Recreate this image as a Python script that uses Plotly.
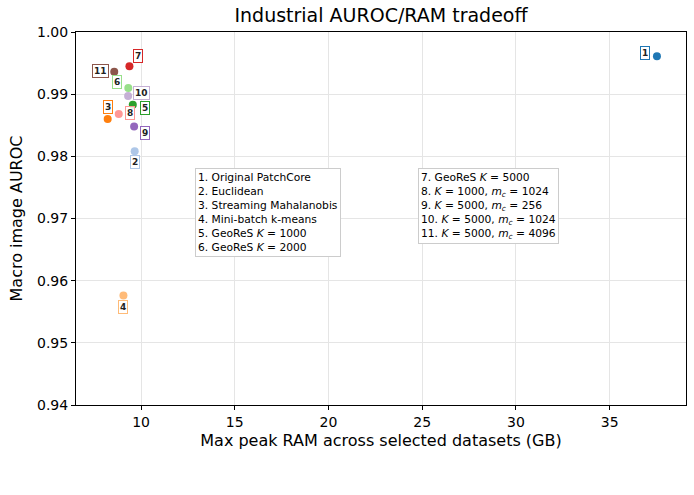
import plotly.graph_objects as go

ids = ["1", "2", "3", "4", "5", "6", "7", "8", "9", "10", "11"]
ram_gb = [37.52, 9.66, 8.22, 9.06, 9.56, 9.32, 9.38, 8.81, 9.63, 9.31, 8.57]
auroc = [0.9961, 0.9808, 0.9860, 0.9576, 0.9883, 0.9910, 0.9945, 0.9868, 0.9848, 0.9897, 0.9936]
colors = ["#1f77b4", "#aec7e8", "#ff7f0e", "#ffbb78", "#2ca02c", "#98df8a",
          "#d62728", "#ff9896", "#9467bd", "#c5b0d5", "#8c564b"]
label_shift = [(-12, 3), (0, -11), (0, 12), (0, -11), (12, -3), (-11, 6),
               (9, 10), (11, 1), (11, -7), (13, 3), (-14, 1)]

legend_left = ["1. Original PatchCore", "2. Euclidean", "3. Streaming Mahalanobis",
               "4. Mini-batch k-means", "5. GeoReS <i>K</i> = 1000", "6. GeoReS <i>K</i> = 2000"]
legend_right = ["7. GeoReS <i>K</i> = 5000", "8. <i>K</i> = 1000, <i>m<sub>c</sub></i> = 1024",
                "9. <i>K</i> = 5000, <i>m<sub>c</sub></i> = 256", "10. <i>K</i> = 5000, <i>m<sub>c</sub></i> = 1024",
                "11. <i>K</i> = 5000, <i>m<sub>c</sub></i> = 4096"]

font = "DejaVu Sans"
fig = go.Figure()
fig.add_trace(go.Scatter(
    x=ram_gb, y=auroc, mode="markers",
    marker=dict(color=colors, size=8, line=dict(width=0)),
    showlegend=False, cliponaxis=False,
))

for i, lab in enumerate(ids):
    fig.add_annotation(
        x=ram_gb[i], y=auroc[i], text="<b>%s</b>" % lab, showarrow=False,
        xshift=label_shift[i][0], yshift=label_shift[i][1],
        font=dict(family=font, size=9, color="#222"),
        bgcolor="rgba(255,255,255,0.85)", bordercolor=colors[i], borderwidth=1, borderpad=1,
    )

fig.add_annotation(x=12.88, y=0.9781, xref="x", yref="y", xanchor="left", yanchor="top",
                   text="<br>".join(legend_left), showarrow=False, align="left",
                   font=dict(family=font, size=10.7, color="black"),
                   bgcolor="white", bordercolor="#cccccc", borderwidth=1, borderpad=2)
fig.add_annotation(x=24.77, y=0.9781, xref="x", yref="y", xanchor="left", yanchor="top",
                   text="<br>".join(legend_right), showarrow=False, align="left",
                   font=dict(family=font, size=10.7, color="black"),
                   bgcolor="white", bordercolor="#cccccc", borderwidth=1, borderpad=2)

axis_common = dict(showline=True, linecolor="black", linewidth=1, mirror=True,
                   ticks="outside", ticklen=4, tickcolor="black",
                   showgrid=True, gridcolor="#e5e5e5", gridwidth=1, zeroline=False,
                   tickfont=dict(family=font, size=14, color="black"))
fig.update_xaxes(range=[6.53, 39.07], tickvals=[10, 15, 20, 25, 30, 35],
                 title=dict(text="Max peak RAM across selected datasets (GB)",
                            font=dict(family=font, size=16, color="black"), standoff=6),
                 **axis_common)
fig.update_yaxes(range=[0.94, 1.0], tickvals=[0.94, 0.95, 0.96, 0.97, 0.98, 0.99, 1.00],
                 tickformat=".2f",
                 title=dict(text="Macro image AUROC",
                            font=dict(family=font, size=16, color="black"), standoff=10),
                 **axis_common)
fig.update_layout(
    width=694, height=495,
    margin=dict(l=76, r=8, t=32, b=90),
    plot_bgcolor="white", paper_bgcolor="white",
    title=dict(text="Industrial AUROC/RAM tradeoff", x=381 / 694, xanchor="center",
               y=1 - 15 / 495, yanchor="middle",
               font=dict(family=font, size=19, color="black")),
)
fig.write_html("out.html")
